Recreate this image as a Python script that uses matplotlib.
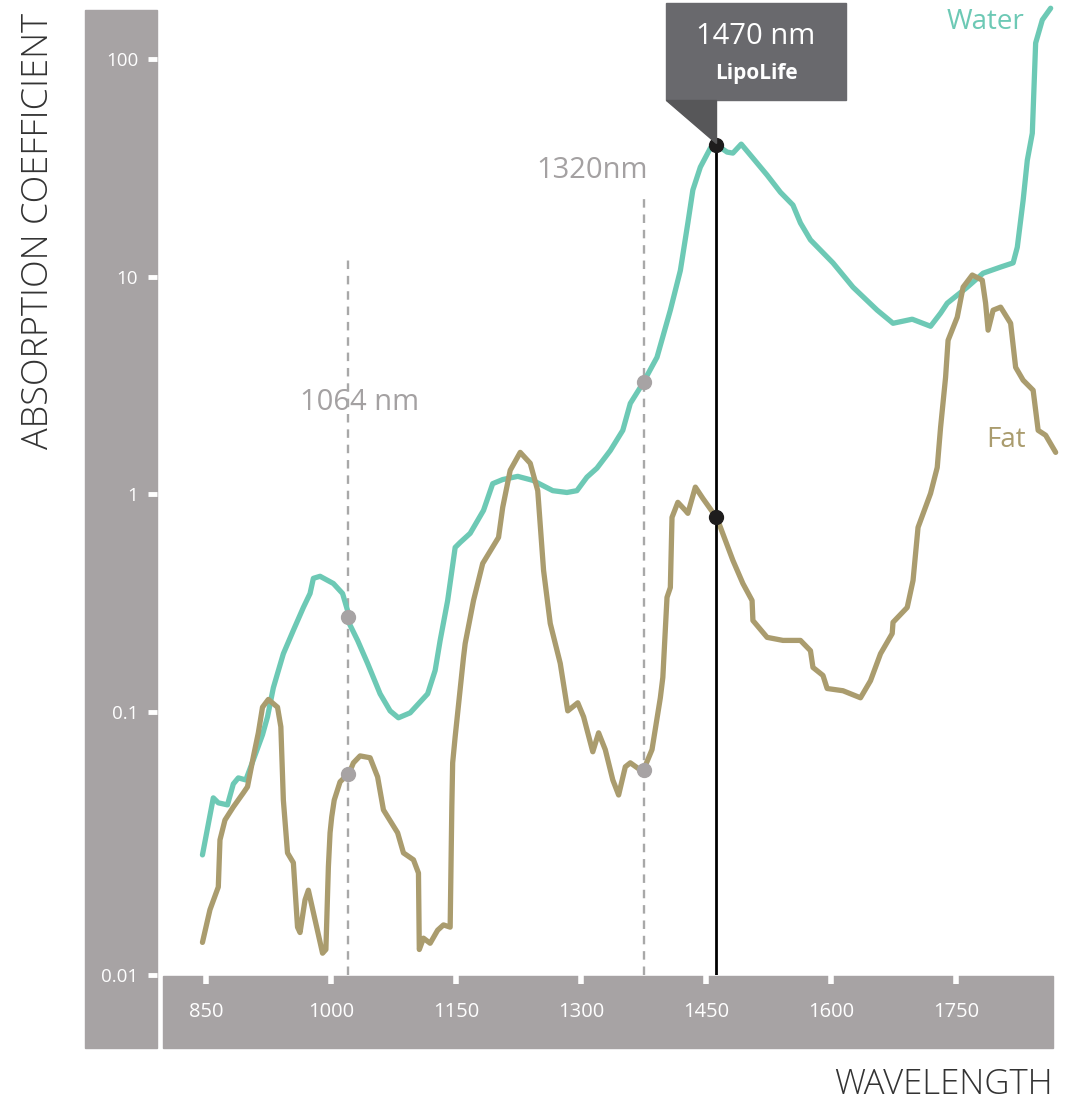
import numpy as np
import matplotlib.pyplot as plt
from matplotlib.patches import Rectangle, Polygon

plt.rcParams['font.family'] = ['Open Sans', 'DejaVu Sans']

# absorption spectra (wavelength in nm)
water_nm = [846, 859, 865, 876, 883, 889, 898, 907, 918, 924, 931, 936, 943, 955, 967, 975,
            979, 987, 1003, 1014, 1020, 1022, 1032, 1044, 1059, 1071, 1081, 1095, 1116, 1125,
            1131, 1140, 1149, 1155, 1167, 1183, 1194, 1206, 1224, 1242, 1266, 1283, 1295, 1307,
            1319, 1335, 1350, 1359, 1374, 1391, 1407, 1419, 1428, 1434, 1443, 1455, 1463, 1475,
            1482, 1492, 1506, 1523, 1539, 1554, 1563, 1575, 1602, 1626, 1655, 1674, 1697, 1719,
            1731, 1739, 1763, 1782, 1803, 1818, 1823, 1830, 1835, 1841, 1845, 1853, 1863]
water_abs = [0.0286, 0.0471, 0.0451, 0.0443, 0.0532, 0.0561, 0.0551, 0.0657, 0.0818, 0.0957,
             0.129, 0.150, 0.185, 0.237, 0.302, 0.350, 0.411, 0.420, 0.389, 0.350, 0.292, 0.255,
             0.213, 0.167, 0.121, 0.101, 0.0949, 0.0991, 0.121, 0.155, 0.213, 0.325, 0.570, 0.601,
             0.662, 0.844, 1.12, 1.17, 1.21, 1.16, 1.04, 1.02, 1.04, 1.20, 1.32, 1.59, 1.97, 2.62,
             3.24, 4.27, 7.03, 10.7, 17.7, 25.1, 32.0, 39.1, 40.4, 37.5, 37.1, 40.8, 35.2, 29.4,
             24.5, 21.4, 17.7, 14.8, 11.6, 8.97, 7.03, 6.12, 6.39, 5.93, 6.81, 7.57, 8.97, 10.4,
             11.1, 11.6, 13.7, 22.5, 34.4, 45.8, 119, 152, 172]

fat_nm = [846, 855, 865, 867, 873, 883, 895, 900, 907, 913, 918, 925, 936, 940, 943, 948, 955,
          960, 963, 969, 973, 981, 990, 994, 997, 999, 1001, 1004, 1011, 1022, 1027, 1035, 1047,
          1056, 1063, 1080, 1087, 1099, 1105, 1106, 1111, 1119, 1128, 1135, 1143, 1144, 1145,
          1146, 1149, 1159, 1161, 1171, 1182, 1201, 1206, 1215, 1227, 1239, 1248, 1255, 1263,
          1275, 1284, 1296, 1303, 1314, 1321, 1329, 1338, 1345, 1353, 1359, 1374, 1385, 1395,
          1398, 1403, 1407, 1409, 1416, 1425, 1428, 1437, 1446, 1463, 1482, 1494, 1505, 1506,
          1523, 1542, 1563, 1575, 1578, 1590, 1595, 1614, 1635, 1647, 1659, 1673, 1674, 1691,
          1698, 1704, 1719, 1727, 1731, 1737, 1740, 1751, 1758, 1769, 1781, 1785, 1788, 1794,
          1803, 1815, 1821, 1830, 1842, 1848, 1857, 1869]
fat_abs = [0.0133, 0.0177, 0.0216, 0.0326, 0.0388, 0.0435, 0.0492, 0.0519, 0.0674, 0.0832,
           0.105, 0.114, 0.105, 0.0877, 0.0462, 0.0291, 0.0267, 0.0152, 0.0145, 0.0193, 0.0210,
           0.0162, 0.0121, 0.0125, 0.0258, 0.0347, 0.0399, 0.0462, 0.0542, 0.0586, 0.0640,
           0.0680, 0.0669, 0.0566, 0.0424, 0.0347, 0.0291, 0.0274, 0.0244, 0.0125, 0.0138,
           0.0132, 0.0148, 0.0155, 0.0152, 0.0258, 0.0435, 0.0640, 0.0804, 0.178, 0.206, 0.325,
           0.481, 0.634, 0.871, 1.29, 1.56, 1.39, 1.04, 0.447, 0.255, 0.167, 0.101, 0.110,
           0.0957, 0.0705, 0.0832, 0.0718, 0.0551, 0.0483, 0.0618, 0.0640, 0.0592, 0.0718,
           0.116, 0.144, 0.336, 0.373, 0.784, 0.919, 0.844, 0.818, 1.08, 0.958, 0.776, 0.497,
           0.389, 0.325, 0.263, 0.220, 0.213, 0.213, 0.191, 0.160, 0.147, 0.128, 0.125, 0.116,
           0.139, 0.185, 0.229, 0.258, 0.302, 0.402, 0.705, 1.01, 1.33, 2.03, 3.45, 5.11, 6.53,
           8.97, 10.2, 9.66, 7.57, 5.69, 7.03, 7.26, 6.12, 3.84, 3.35, 3.01, 1.97, 1.87, 1.56]

xticks = [850, 1000, 1150, 1300, 1450, 1600, 1750]
yticks = [0.01, 0.1, 1, 10, 100]
ytick_labels = ['0.01', '0.1', '1', '10', '100']

# marker lines: position on the drawn axis, and the label printed next to them
line_1064, line_1320, line_1470 = 1021, 1375, 1462

water_col = '#6dc9b5'
fat_col = '#aa9c6e'
band_col = '#a7a3a4'
note_col = '#a4a1a2'

W, H = 1077, 1104
fig = plt.figure(figsize=(W / 100, H / 100), dpi=100)


def fx(px):
    return px / W


def fy(py):
    return 1 - py / H


# the source graphic draws the last decade (0.01-0.1) taller than the others
STRETCH = 263 / 217.3


def fwd(v):
    l = np.log10(np.clip(v, 1e-9, None))
    return np.where(l >= -1, l, -1 + (l + 1) * STRETCH)


def inv(t):
    t = np.asarray(t, dtype=float)
    return np.where(t >= -1, 10.0 ** t, 10.0 ** (-1 + (t + 1) / STRETCH))


def at(x, nm, vals):
    return float(inv(np.interp(x, nm, fwd(np.array(vals)))))


# grey axis bands
fig.add_artist(Rectangle((fx(85), fy(1048)), fx(157) - fx(85), fy(10) - fy(1048),
                         transform=fig.transFigure, color=band_col, zorder=-2))
fig.add_artist(Rectangle((fx(163), fy(1048)), fx(1053) - fx(163), fy(976) - fy(1048),
                         transform=fig.transFigure, color=band_col, zorder=-2))

ax = fig.add_axes([fx(157), fy(975), fx(1060) - fx(157), fy(5) - fy(975)])
ax.set_facecolor('none')
ax.set_yscale('function', functions=(fwd, inv))
ax.set_xlim(791.5, 1874.2)
ax.set_ylim(0.01, 178)
for s in ax.spines.values():
    s.set_visible(False)

ax.set_xticks(xticks, [str(t) for t in xticks])
ax.set_yticks(yticks, ytick_labels)
ax.minorticks_off()
ax.tick_params(axis='y', direction='out', length=6.5, width=3.5, color='white',
               labelcolor='white', labelsize=13.5, pad=7)
ax.tick_params(axis='x', direction='out', length=6.5, width=4, color='white',
               labelcolor='white', labelsize=14.5, pad=13)

# marker lines
dash = dict(color='#a8a8a8', lw=1.7, dashes=(3.6, 2.9), zorder=1)
ax.plot([line_1064, line_1064], [0.01, 12.2], **dash)
ax.plot([line_1320, line_1320], [0.01, 23.3], **dash)

curve = dict(lw=3.8, solid_capstyle='round', solid_joinstyle='round', zorder=2)
ax.plot(water_nm, water_abs, color=water_col, **curve)
ax.plot(fat_nm, fat_abs, color=fat_col, **curve)

w_top = at(line_1470, water_nm, water_abs)
ax.plot([line_1470, line_1470], [0.01, w_top], color='black', lw=2, zorder=3)

for x in (line_1064, line_1320):
    ax.plot([x, x], [at(x, water_nm, water_abs), at(x, fat_nm, fat_abs)], 'o',
            color=band_col, ms=10, zorder=4)
ax.plot([line_1470, line_1470], [w_top, at(line_1470, fat_nm, fat_abs)], 'o',
        color='#1e1c1d', ms=10, zorder=4)

ax.text(1034, 2.65, '1064 nm', color=note_col, fontsize=21, ha='center', va='center', zorder=0)
ax.text(1380, 31, '1320nm', color=note_col, fontsize=21, ha='right', va='center', zorder=0)
ax.text(1832, 149, 'Water', color=water_col, fontsize=20, ha='right', va='center')
ax.text(1833, 1.77, 'Fat', color=fat_col, fontsize=20, ha='right', va='center')

# callout box for 1470 nm
fig.add_artist(Rectangle((fx(666), fy(100)), fx(846) - fx(666), fy(3) - fy(100),
                         transform=fig.transFigure, color='#69696d', zorder=3))
fig.add_artist(Polygon([(fx(666), fy(100)), (fx(716), fy(100)), (fx(716), fy(143))],
                       closed=True, transform=fig.transFigure, color='#575759', zorder=3))
fig.text(fx(756), fy(37), '1470 nm', color='white', fontsize=21, ha='center', va='center', zorder=4)
fig.text(fx(756), fy(73), 'LipoLife', color='white', fontsize=15, fontweight='bold',
         ha='center', va='center', zorder=4)

fig.text(fx(39), fy(231), 'ABSORPTION COEFFICIENT', rotation=90, color='#333333',
         fontsize=26, fontweight='light', ha='center', va='center')
fig.text(fx(1053), fy(1085), 'WAVELENGTH', color='#333333', fontsize=25, fontweight='light',
         ha='right', va='center')

fig.savefig('out.png', dpi=100)
